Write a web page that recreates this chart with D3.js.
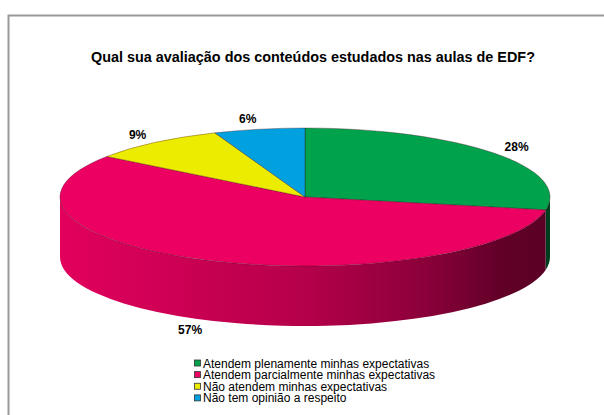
<!DOCTYPE html>
<html>
<head>
<meta charset="utf-8">
<script src="https://cdn.jsdelivr.net/npm/d3@7"></script>
<style>
  body { margin: 0; background: #fff; }
  svg { display: block; font-family: "Liberation Sans", Arial, sans-serif; }
</style>
</head>
<body>
<script>
// data
const categories = [
    "Atendem plenamente minhas expectativas",
    "Atendem parcialmente minhas expectativas",
    "Não atendem minhas expectativas",
    "Não tem opinião a respeito"
];
const values = [28, 57, 9, 6];
const colors = ["#00A24C", "#EC0061", "#ECEC00", "#00A1DE"];
const title = "Qual sua avaliação dos conteúdos estudados nas aulas de EDF?";

var width = 604, height = 415;
var cx = 305, cy = 197, rx = 245, ry = 69, depth = 60;

const svg = d3.select("body").append("svg")
    .attr("width", width)
    .attr("height", height);

// chart frame (runs off the right / bottom)
svg.append("rect")
    .attr("x", 8.5).attr("y", 15.5)
    .attr("width", 700).attr("height", 500)
    .attr("fill", "none")
    .attr("stroke", "#999")
    .attr("stroke-width", 2);

svg.append("text")
    .attr("x", 313).attr("y", 62)
    .attr("text-anchor", "middle")
    .attr("font-size", 14.4)
    .attr("font-weight", "bold")
    .text(title);

const color = d3.scaleOrdinal().domain(categories).range(colors);
const arcs = d3.pie().sort(null).value(d => d)(values);

function px(a, r) { return cx + (r || rx) * Math.sin(a); }
function py(a, r) { return cy - (r || ry) * Math.cos(a); }

// side shading, dark towards the right like the excel 3d look
const defs = svg.append("defs");
colors.forEach(function(c, i) {
    const g = defs.append("linearGradient")
        .attr("id", "side" + i)
        .attr("gradientUnits", "userSpaceOnUse")
        .attr("x1", cx - rx).attr("x2", cx + rx)
        .attr("y1", 0).attr("y2", 0);
    [[0, 0.12], [0.5, 0.75], [0.75, 1.5], [0.9, 2.5], [1, 2.7]].forEach(function(s) {
        g.append("stop")
            .attr("offset", s[0])
            .attr("stop-color", d3.color(c).darker(s[1]).formatHex());
    });
});

// sides (front half only)
const sides = svg.append("g");
arcs.forEach(function(d, i) {
    var s = Math.max(d.startAngle, Math.PI / 2);
    var e = Math.min(d.endAngle, Math.PI * 3 / 2);
    if (e <= s) return;
    var p = "M" + px(s) + "," + py(s)
        + "A" + rx + "," + ry + " 0 0 1 " + px(e) + "," + py(e)
        + "L" + px(e) + "," + (py(e) + depth)
        + "A" + rx + "," + ry + " 0 0 0 " + px(s) + "," + (py(s) + depth)
        + "Z";
    sides.append("path")
        .attr("d", p)
        .attr("fill", "url(#side" + i + ")");
});

// top faces
const tops = svg.append("g");
arcs.forEach(function(d, i) {
    var large = (d.endAngle - d.startAngle) > Math.PI ? 1 : 0;
    var p = "M" + cx + "," + cy
        + "L" + px(d.startAngle) + "," + py(d.startAngle)
        + "A" + rx + "," + ry + " 0 " + large + " 1 " + px(d.endAngle) + "," + py(d.endAngle)
        + "Z";
    tops.append("path")
        .attr("d", p)
        .attr("fill", color(categories[i]))
        .attr("stroke", "rgba(60,0,20,0.55)")
        .attr("stroke-width", 0.6);
});

// percent labels
const lab = svg.append("g")
    .attr("font-size", 12)
    .attr("font-weight", "bold")
    .attr("fill", "#000");
arcs.forEach(function(d, i) {
    var m = (d.startAngle + d.endAngle) / 2;
    var x = px(m, rx + 14);
    var y = py(m, ry + 10) + (Math.cos(m) < 0 ? depth : 0) + 4;
    lab.append("text")
        .attr("x", x)
        .attr("y", y)
        .attr("text-anchor", Math.sin(m) >= 0 ? "start" : "end")
        .text(values[i] + "%");
});

// legend
const row = d3.scaleBand().domain(categories).range([357.5, 404]);
const legend = svg.append("g")
    .attr("font-size", 12)
    .selectAll("g")
    .data(categories)
    .join("g")
    .attr("transform", d => "translate(194," + row(d) + ")");
legend.append("rect")
    .attr("x", 0.5).attr("y", 2.5)
    .attr("width", 6).attr("height", 6)
    .attr("fill", d => color(d))
    .attr("stroke", "#333")
    .attr("stroke-width", 0.8);
legend.append("text")
    .attr("x", 9)
    .attr("y", 10)
    .text(d => d);
</script>
</body>
</html>
